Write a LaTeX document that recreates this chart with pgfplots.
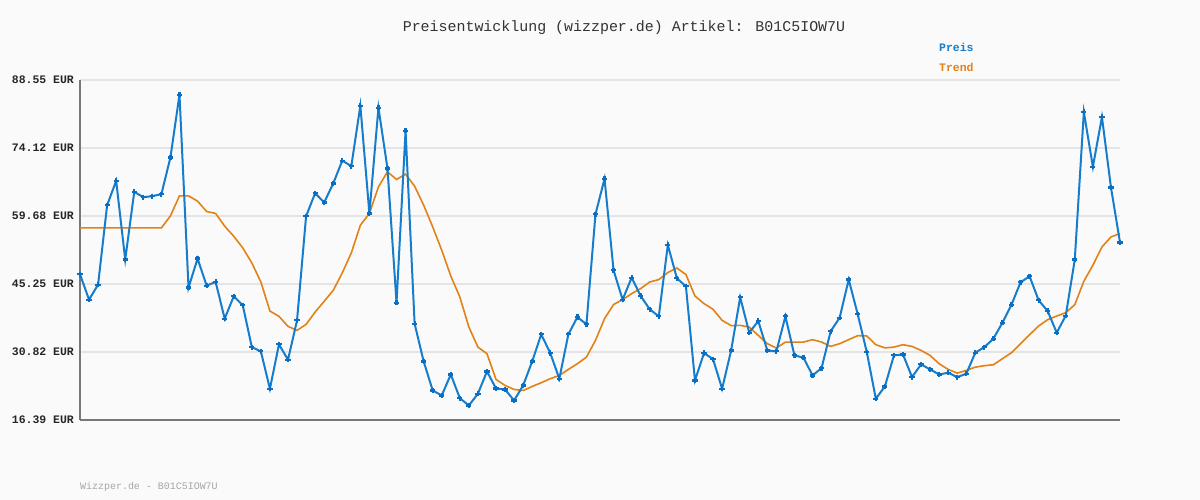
\documentclass[border=0pt]{standalone}
\usepackage{pgfplots}
\pgfplotsset{compat=1.18}
\usepackage{fontspec}
\setmainfont{Liberation Mono}
\definecolor{bg}{RGB}{250,250,250}
\definecolor{preis}{RGB}{22,125,204}
\definecolor{preismark}{RGB}{10,110,195}
\definecolor{trend}{RGB}{226,130,22}
\definecolor{gridc}{RGB}{228,228,228}
\definecolor{axc}{RGB}{120,120,120}
\begin{document}
\begin{tikzpicture}
\fill[bg] (0,0) rectangle (1200bp,500bp);
\begin{axis}[
  at={(80bp,80bp)}, anchor=south west,
  scale only axis, width=1040bp, height=340bp,
  xmin=0, xmax=115, ymin=16.39, ymax=88.55,
  axis x line=bottom, axis y line=left,
  axis line style={-, axc, line width=2bp},
  xtick=\empty,
  ytick={16.39,30.82,45.25,59.68,74.12,88.55},
  yticklabels={16.39 EUR,30.82 EUR,45.25 EUR,59.68 EUR,74.12 EUR,88.55 EUR},
  yticklabel style={font=\bfseries\fontsize{11.5}{12}\selectfont, text=black!85, inner sep=0pt, xshift=-6bp},
  major tick length=0pt,
  ymajorgrids, grid style={gridc, line width=2bp},
  clip=false,
]
\addplot[trend, line width=1.6bp] table {
x y
0 57.16
1 57.16
2 57.16
3 57.16
4 57.16
5 57.16
6 57.16
7 57.16
8 57.16
9 57.16
10 59.71
11 63.96
12 63.96
13 62.83
14 60.64
15 60.22
16 57.52
17 55.39
18 52.91
19 49.72
20 45.68
21 39.52
22 38.39
23 36.26
24 35.41
25 36.69
26 39.30
27 41.58
28 43.91
29 47.60
30 51.84
31 57.73
32 60.22
33 65.87
34 69.06
35 67.44
36 68.57
37 66.02
38 61.98
39 57.37
40 52.42
41 46.95
42 42.49
43 36.11
44 31.86
45 30.46
46 25.00
47 23.72
48 22.87
49 22.66
50 23.51
51 24.30
52 25.15
53 25.85
54 27.12
55 28.33
56 29.74
57 33.29
58 37.90
59 40.90
60 41.93
61 43.21
62 44.28
63 45.68
64 46.19
65 47.68
66 48.65
67 47.25
68 42.70
69 41.09
70 39.88
71 37.54
72 36.41
73 36.48
74 36.11
75 34.35
76 32.59
77 31.65
78 32.93
79 32.93
80 32.93
81 33.44
82 32.93
83 32.01
84 32.59
85 33.44
86 34.29
87 34.22
88 32.37
89 31.70
90 31.86
91 32.37
92 32.01
93 31.16
94 30.10
95 28.33
96 27.12
97 26.34
98 26.91
99 27.61
100 27.91
101 28.12
102 29.40
103 30.67
104 32.59
105 34.50
106 36.33
107 37.69
108 38.45
109 39.17
110 40.87
111 45.83
112 49.23
113 53.12
114 55.24
115 55.97
};
\addplot[preis, line width=2bp, mark=+, mark size=2.6bp, mark options={preismark, line width=2.2bp}] table {
x y
0 47.32
1 41.93
2 45.12
3 61.98
4 67.15
5 50.44
6 64.81
7 63.68
8 63.90
9 64.32
10 72.12
11 85.43
12 44.49
13 50.65
14 44.91
15 45.68
16 37.90
17 42.64
18 40.73
19 31.86
20 30.95
21 23.02
22 32.44
23 29.18
24 37.54
25 59.64
26 64.53
27 62.55
28 66.59
29 71.44
30 70.27
31 83.09
32 60.22
33 82.66
34 69.78
35 41.30
36 77.77
37 36.84
38 28.82
39 22.66
40 21.60
41 26.06
42 21.02
43 19.47
44 21.96
45 26.70
46 23.08
47 22.87
48 20.53
49 23.72
50 28.82
51 34.56
52 30.59
53 25.15
54 34.56
55 38.24
56 36.69
57 60.07
58 67.57
59 48.17
60 41.93
61 46.61
62 42.70
63 39.88
64 38.39
65 53.54
66 46.47
67 44.76
68 24.78
69 30.59
70 29.31
71 23.02
72 31.16
73 42.43
74 34.92
75 37.39
76 31.16
77 30.95
78 38.39
79 30.10
80 29.61
81 25.85
82 27.40
83 35.20
84 38.11
85 46.19
86 38.81
87 30.80
88 20.90
89 23.51
90 30.10
91 30.31
92 25.49
93 28.19
94 27.12
95 26.06
96 26.42
97 25.49
98 26.21
99 30.67
100 31.86
101 33.65
102 37.05
103 40.87
104 45.61
105 46.89
106 41.79
107 39.52
108 34.92
109 38.54
110 50.44
111 81.75
112 70.12
113 80.69
114 65.74
115 54.05
};
\end{axis}
\node[anchor=center, inner sep=0pt, text=black!80, font=\fontsize{15}{16}\selectfont] at (624bp,472bp) {Preisentwicklung (wizzper.de) Artikel: B01C5IOW7U};
\node[anchor=west, inner sep=0pt, text=preis, font=\bfseries\fontsize{11.5}{12}\selectfont] at (939bp,453bp) {Preis};
\node[anchor=west, inner sep=0pt, text=trend, font=\bfseries\fontsize{11.5}{12}\selectfont] at (939bp,433bp) {Trend};
\node[anchor=west, inner sep=0pt, text=black!35, font=\fontsize{10}{11}\selectfont] at (80bp,13bp) {Wizzper.de - B01C5IOW7U};
\pgfresetboundingbox
\useasboundingbox (0,0) rectangle (1200bp,500bp);
\end{tikzpicture}
\end{document}
